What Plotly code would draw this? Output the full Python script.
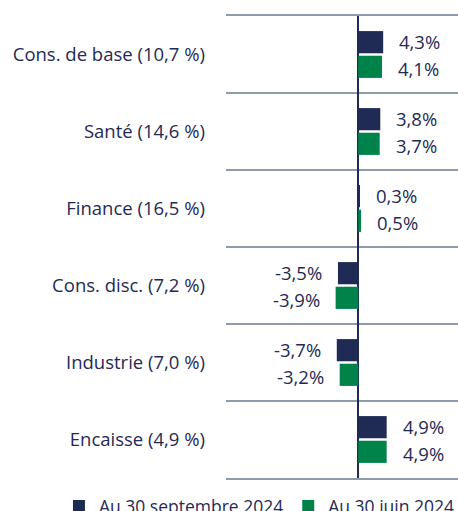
import plotly.graph_objects as go

categories = ["Cons. de base (10,7 %)", "Santé (14,6 %)", "Finance (16,5 %)",
              "Cons. disc. (7,2 %)", "Industrie (7,0 %)", "Encaisse (4,9 %)"]
sep_2024 = [4.3, 3.8, 0.3, -3.5, -3.7, 4.9]
jun_2024 = [4.1, 3.7, 0.5, -3.9, -3.2, 4.9]
series_names = ["Au 30 septembre 2024", "Au 30 juin 2024"]

NAVY = "#1F2A55"
GREEN = "#00834A"
GRID = "#8F9AAB"
FONT = "Open Sans"

def fmt(v):
    return f"{v:.1f}".replace(".", ",") + "%"

fig = go.Figure()
fig.add_trace(go.Bar(y=categories, x=sep_2024, orientation="h", name=series_names[0],
                     marker=dict(color=NAVY, line=dict(width=0))))
fig.add_trace(go.Bar(y=categories, x=jun_2024, orientation="h", name=series_names[1],
                     marker=dict(color=GREEN, line=dict(width=0))))

annotations = []
for vals, ysh in ((sep_2024, 13.5), (jun_2024, -13.5)):
    for c, v in zip(categories, vals):
        annotations.append(dict(
            x=v, y=c, xref="x", yref="y", text=fmt(v), showarrow=False,
            xanchor="left" if v >= 0 else "right",
            xshift=14 if v >= 0 else -14, yshift=ysh,
            font=dict(family=FONT, size=18.5, color=NAVY)))

fig.update_layout(
    width=458, height=511,
    margin=dict(l=226, r=0, t=16, b=33, autoexpand=False),
    plot_bgcolor="white", paper_bgcolor="white",
    barmode="group", bargap=0.36, bargroupgap=0.1,
    font=dict(family=FONT, size=18.5, color=NAVY),
    annotations=annotations,
    xaxis=dict(range=[-22.8, 17.2], showgrid=False, showticklabels=False,
               zeroline=True, zerolinecolor=NAVY, zerolinewidth=2, fixedrange=True,
               showline=True, mirror=True, linecolor=GRID, linewidth=2, ticks=""),
    yaxis=dict(autorange="reversed", tickson="boundaries", showgrid=True,
               gridcolor=GRID, gridwidth=2, ticks="", ticklabelstandoff=20,
               automargin=False, fixedrange=True,
               tickfont=dict(family=FONT, size=18.5, color=NAVY)),
    legend=dict(orientation="h", x=-0.72, xanchor="left", y=-0.022, yanchor="top",
                font=dict(family=FONT, size=17.5, color=NAVY), itemwidth=30,
                traceorder="normal"),
)

fig.write_html("out.html", config={"displayModeBar": False},
               post_script="document.body.style.margin='0';")
